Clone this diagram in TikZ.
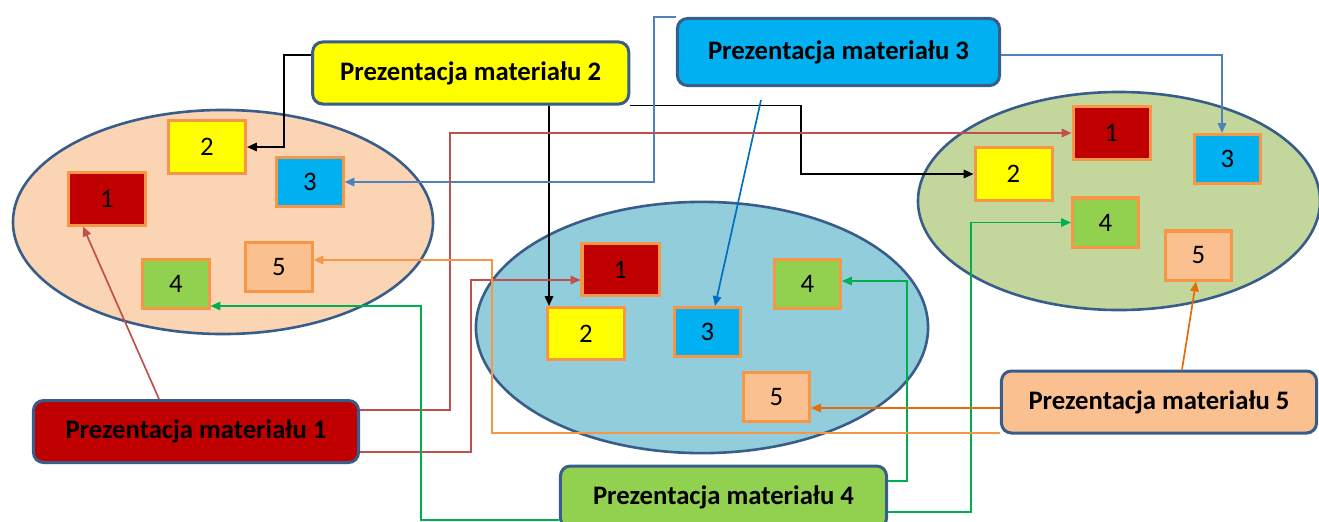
\documentclass[tikz,border=0pt]{standalone}
\usepackage{fontspec}
\setmainfont{Carlito}
\usetikzlibrary{calc,arrows.meta}
\definecolor{frame}{HTML}{385D8A}
\definecolor{tilebd}{HTML}{F79646}
\definecolor{ovpeach}{HTML}{FBD4B4}
\definecolor{ovblue}{HTML}{92CDDC}
\definecolor{ovgreen}{HTML}{C3D69B}
\definecolor{mred}{HTML}{C00000}
\definecolor{myellow}{HTML}{FFFF00}
\definecolor{mcyan}{HTML}{00B0F0}
\definecolor{mgreen}{HTML}{92D050}
\definecolor{mpeach}{HTML}{FAC090}
\definecolor{lnblue}{HTML}{4F81BD}
\definecolor{lnbluedark}{HTML}{0070C0}
\definecolor{lnred}{HTML}{C0504D}
\definecolor{lngreen}{HTML}{00B050}
\definecolor{lnorange}{HTML}{E46C0A}
\definecolor{lnorangelt}{HTML}{F79646}

\begin{document}
\begin{tikzpicture}[x=0.025cm, y=-0.025cm,
  mbox/.style={draw=frame, line width=0.075cm, rounded corners=0.25cm, minimum height=1.55cm, inner sep=0pt, font=\bfseries\fontsize{19}{22}\selectfont},
  tile/.style={draw=tilebd, line width=0.075cm, inner sep=0pt, font=\fontsize{19}{22}\selectfont},
  wtile/.style={tile, minimum width=1.925cm, minimum height=1.3cm},
  ntile/.style={tile, minimum width=1.65cm, minimum height=1.225cm},
  oval/.style={draw=frame, line width=0.065cm},
  conn/.style={line width=1.2pt, -{Triangle[length=7pt,width=6pt]}}]
  \useasboundingbox (0,0) rectangle (1319,521);
  \draw[oval, fill=ovpeach] (223,222) ellipse [x radius=5.25cm, y radius=2.8cm];
  \draw[oval, fill=ovblue] (702,327.5) ellipse [x radius=5.65cm, y radius=3.14cm];
  \draw[oval, fill=ovgreen] (1119,201) ellipse [x radius=5.025cm, y radius=2.725cm];
  \node[wtile, fill=mred] (l1) at (107,199) {1};
  \node[wtile, fill=myellow] (l2) at (207,147) {2};
  \node[ntile, fill=mcyan] (l3) at (310,182) {3};
  \node[ntile, fill=mgreen] (l4) at (176,284) {4};
  \node[ntile, fill=mpeach] (l5) at (279,267) {5};
  \node[wtile, fill=mred] (m1) at (620.5,269.5) {1};
  \node[wtile, fill=myellow] (m2) at (586,333.5) {2};
  \node[ntile, fill=mcyan] (m3) at (707.5,332) {3};
  \node[ntile, fill=mgreen] (m4) at (807.5,284) {4};
  \node[ntile, fill=mpeach] (m5) at (776.5,397) {5};
  \node[wtile, fill=mred] (r1) at (1111.5,133) {1};
  \node[wtile, fill=myellow] (r2) at (1013.5,174) {2};
  \node[ntile, fill=mcyan] (r3) at (1227.5,159) {3};
  \node[ntile, fill=mgreen] (r4) at (1105.5,222.5) {4};
  \node[ntile, fill=mpeach] (r5) at (1198.5,255.5) {5};
  \node[mbox, fill=mred, minimum width=8.125cm] (pm1) at (196,431.5) {Prezentacja materiału 1};
  \node[mbox, fill=myellow, minimum width=7.9cm] (pm2) at (470.7,73) {Prezentacja materiału 2};
  \node[mbox, fill=mcyan, minimum width=8.05cm, minimum height=1.675cm] (pm3) at (838.5,52) {Prezentacja materiału 3};
  \node[mbox, fill=mgreen, minimum width=8.15cm] (pm4) at (723.5,497) {Prezentacja materiału 4};
  \node[mbox, fill=mpeach, minimum width=7.875cm] (pm5) at (1159,402) {Prezentacja materiału 5};
  \coordinate (pm3tail) at (761,100);
  \draw[conn, black, line width=1.3pt] ($(pm2.west)+(0,-18)$) -- ++(-27,0) |- (l2);
  \draw[conn, black, line width=1.3pt] ($(pm2.south)+(78.3,0)$) -- ($(m2.north)+(-37,0)$);
  \draw[conn, black, line width=1.3pt] (pm2.south east) -- ++(171,0) |- (r2);
  \draw[conn, lnblue] (pm3.north west) -- ++(-22,0) |- (l3);
  \draw[conn, lnbluedark] (pm3tail) -- ($(m3.north)+(7.5,0)$);
  \draw[conn, lnblue] ($(pm3.east)+(0,3)$) -| ($(r3.north)+(-5.5,0)$);
  \draw[conn, lnred] ($(pm1.north)+(-37,0)$) -- ($(l1.south)+(-24,0)$);
  \draw[conn, lnred] ($(pm1.east)+(0,-21.5)$) -- ++(90,0) |- (r1);
  \draw[conn, lnred] ($(pm1.east)+(0,20.5)$) -- ++(111,0) |- ($(m1.west)+(0,10.5)$);
  \draw[conn, lngreen] ($(pm4.west)+(0,23)$) -- ++(-138,0) |- ($(l4.east)+(0,22)$);
  \draw[conn, lngreen] ($(pm4.east)+(0,-16)$) -- ++(19,0) |- ($(m4.east)+(0,-3)$);
  \draw[conn, lngreen] ($(pm4.east)+(0,15)$) -- ++(83,0) |- (r4);
  \draw[conn, lnorange] ($(pm5.west)+(0,6)$) -- ($(m5.east)+(0,11)$);
  \draw[conn, lnorange] ($(pm5.north)+(23,0)$) -- ($(r5.south)+(-2.5,0)$);
  \draw[conn, lnorangelt] ($(pm5.west)+(0,31)$) -- ++(-508,0) |- ($(l5.east)+(0,-7)$);
\end{tikzpicture}
\end{document}
